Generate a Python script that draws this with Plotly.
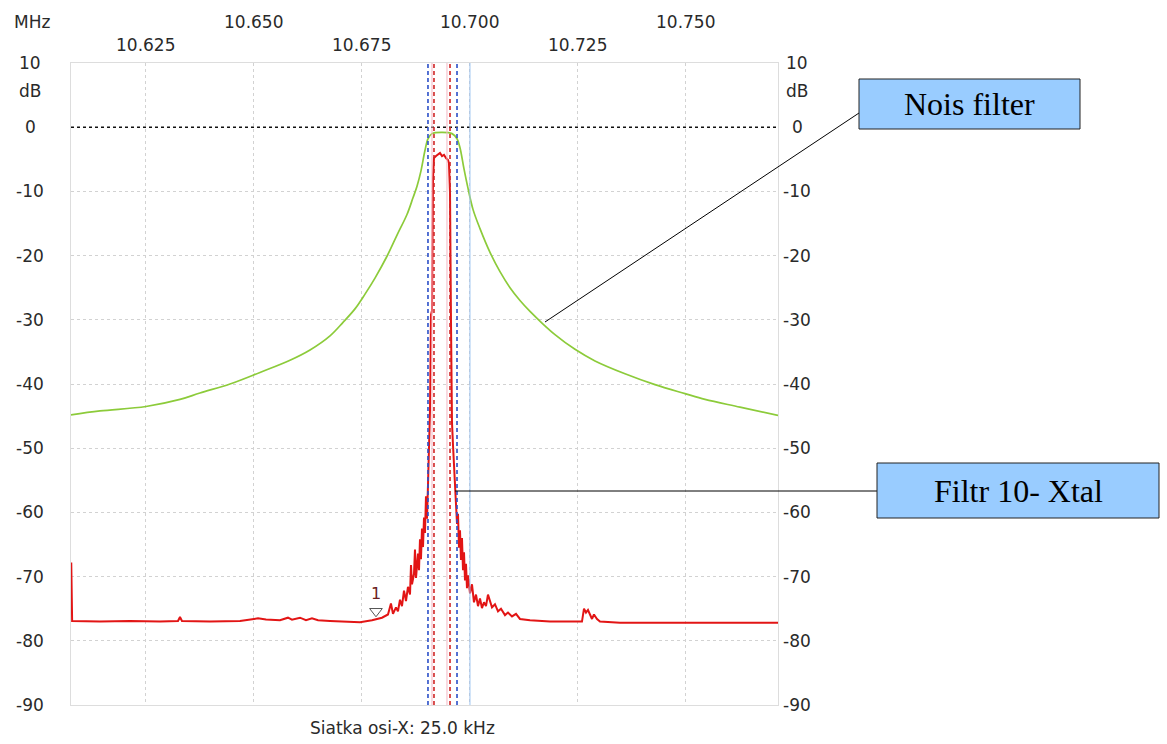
import plotly.graph_objects as go

# ---------------- data ----------------
x_range = [10.60764, 10.77131]
y_range = [-90, 10]

top_ticks_row1 = [10.650, 10.700, 10.750]
top_ticks_row2 = [10.625, 10.675, 10.725]
top_labels_row1 = ["10.650", "10.700", "10.750"]
top_labels_row2 = ["10.625", "10.675", "10.725"]
grid_x = [10.625, 10.650, 10.675, 10.700, 10.725, 10.750]

y_ticks = [10, 0, -10, -20, -30, -40, -50, -60, -70, -80, -90]
y_labels = ["10", "0", "-10", "-20", "-30", "-40", "-50", "-60", "-70", "-80", "-90"]

green_f = [10.60764, 10.61435, 10.62500, 10.63287, 10.63750, 10.64445, 10.65139,
           10.65834, 10.66297, 10.66760, 10.67061, 10.67338, 10.67570, 10.67801,
           10.68079, 10.68311, 10.68542, 10.68681, 10.68774, 10.68866, 10.68959,
           10.69028, 10.69121, 10.69352, 10.69584, 10.69700, 10.69769, 10.69862,
           10.69954, 10.70070, 10.70232, 10.70464, 10.70695, 10.70927, 10.71158,
           10.71390, 10.71667, 10.71968, 10.72431, 10.72894, 10.73589, 10.74283,
           10.74978, 10.75441, 10.76251, 10.77131]
green_db = [-44.8, -44.2, -43.5, -42.4, -41.4, -40.0, -38.2,
            -36.3, -34.7, -32.5, -30.4, -28.3, -26.0, -23.5,
            -20.1, -16.8, -13.6, -11.0, -9.2, -6.8, -3.6,
            -1.8, -1.0, -0.8, -1.0, -1.8, -3.2, -6.5,
            -9.5, -12.8, -15.8, -19.5, -22.5, -25.0, -27.0,
            -28.7, -30.5, -32.3, -34.6, -36.4, -38.4, -40.1,
            -41.5, -42.4, -43.6, -44.9]

red_f = [10.60770, 10.60790, 10.61435, 10.62130, 10.62824, 10.63241, 10.63287,
         10.63333, 10.63982, 10.64676, 10.65000, 10.65093, 10.65278, 10.65602,
         10.65787, 10.65880, 10.66065, 10.66204, 10.66343, 10.66482, 10.66760,
         10.67107, 10.67454, 10.67732, 10.67963, 10.68102, 10.68171, 10.68218,
         10.68287, 10.68333, 10.68380, 10.68426, 10.68473, 10.68519, 10.68565,
         10.68612, 10.68635, 10.68658, 10.68704, 10.68727, 10.68751, 10.68797,
         10.68820, 10.68843, 10.68866, 10.68889, 10.68913, 10.68936, 10.68959,
         10.68982, 10.69005, 10.69028, 10.69051, 10.69075, 10.69098, 10.69121,
         10.69144, 10.69167, 10.69214, 10.69260, 10.69306, 10.69353, 10.69399,
         10.69445, 10.69491, 10.69514, 10.69538, 10.69561, 10.69584, 10.69607,
         10.69630, 10.69653, 10.69677, 10.69700, 10.69723, 10.69746, 10.69769,
         10.69792, 10.69815, 10.69839, 10.69862, 10.69885, 10.69908, 10.69931,
         10.69954, 10.70001, 10.70047, 10.70093, 10.70140, 10.70186, 10.70232,
         10.70278, 10.70325, 10.70371, 10.70417, 10.70464, 10.70510, 10.70579,
         10.70649, 10.70718, 10.70811, 10.70880, 10.70973, 10.71066, 10.71158,
         10.71390, 10.71853, 10.72316, 10.72593, 10.72640, 10.72686, 10.72732,
         10.72779, 10.72825, 10.72871, 10.72941, 10.73010, 10.73473, 10.74168,
         10.74862, 10.75557, 10.76251, 10.77131]
red_db = [-67.8, -76.9, -77.0, -76.9, -77.0, -76.9, -76.3,
          -76.9, -77.0, -76.9, -76.6, -76.5, -76.7, -76.8,
          -76.4, -76.7, -76.4, -76.8, -76.5, -76.8, -76.9,
          -77.0, -77.1, -76.8, -76.4, -75.9, -74.2, -75.8,
          -74.8, -75.4, -73.6, -74.6, -72.2, -73.8, -71.6,
          -72.8, -68.2, -71.2, -69.6, -65.8, -70.2, -66.4,
          -69.0, -64.2, -67.3, -62.5, -65.4, -60.8, -63.2,
          -57.5, -61.0, -55.8, -51.5, -44.0, -29.2, -28.6,
          -8.0, -4.8, -4.5, -4.2, -4.0, -4.5, -4.3,
          -4.8, -5.1, -5.6, -10.2, -30.5, -46.0, -49.5,
          -53.0, -56.2, -58.5, -61.8, -60.2, -65.5, -62.8,
          -67.4, -64.0, -69.0, -66.2, -70.6, -68.0, -71.8,
          -69.8, -72.6, -71.2, -74.0, -72.8, -74.6, -73.4,
          -74.9, -74.0, -74.6, -72.8, -73.9, -74.8, -74.3,
          -75.4, -75.0, -76.0, -75.6, -76.2, -75.8, -76.6,
          -76.8, -77.0, -77.0, -77.0, -75.0, -75.6, -75.2,
          -75.9, -76.6, -75.9, -76.6, -77.0, -77.2, -77.2,
          -77.2, -77.2, -77.2, -77.2]

marker_f = [10.67824]
marker_db = [-75.4]
marker_label = ["1"]

blue_lines = [10.69028, 10.69700]
red_lines = [10.69167, 10.69538]
pink_lines = [10.69121, 10.69468]
lightblue_lines = [10.70000]

# ---------------- figure ----------------
W, H = 1167, 744
L, R, T, B = 71, 389, 63, 39
pw, ph = W - L - R, H - T - B

def px(x):
    return (x - L) / pw

def py(y):
    return (H - B - y) / ph

txt_font = dict(family="DejaVu Sans", size=17, color="#2A2A2A")
box_font = dict(family="Liberation Serif", size=32, color="#000000")

fig = go.Figure()

fig.add_trace(go.Scatter(x=green_f, y=green_db, mode="lines", line_shape="spline",
                         line=dict(color="#8CCB3A", width=1.7), hoverinfo="skip"))
fig.add_trace(go.Scatter(x=red_f, y=red_db, mode="lines",
                         line=dict(color="#E21515", width=2), hoverinfo="skip"))
fig.add_trace(go.Scatter(x=marker_f, y=marker_db, mode="markers+text",
                         marker=dict(symbol="triangle-down-open", size=11,
                                     color="#555555", line=dict(width=1)),
                         text=marker_label, textposition="top center",
                         textfont=dict(family="DejaVu Sans", size=16, color="#6B2020"),
                         hoverinfo="skip"))

shapes = []
shapes.append(dict(type="line", xref="paper", x0=0, x1=1, yref="y", y0=0, y1=0,
                   line=dict(color="#111111", width=1.5, dash="dot")))
for f in pink_lines:
    shapes.append(dict(type="line", xref="x", x0=f, x1=f, yref="paper", y0=0, y1=1,
                       line=dict(color="#F4B6C2", width=1)))
for f in lightblue_lines:
    shapes.append(dict(type="line", xref="x", x0=f, x1=f, yref="paper", y0=0, y1=1,
                       line=dict(color="#9CC3F0", width=1)))
for f in blue_lines:
    shapes.append(dict(type="line", xref="x", x0=f, x1=f, yref="paper", y0=0, y1=1,
                       line=dict(color="#2B4FC8", width=1.6, dash="4px,3px")))
for f in red_lines:
    shapes.append(dict(type="line", xref="x", x0=f, x1=f, yref="paper", y0=0, y1=1,
                       line=dict(color="#D02626", width=1.6, dash="4px,3px")))

shapes.append(dict(type="line", xref="paper", yref="paper",
                   x0=px(859), y0=py(113), x1=px(545), y1=py(322),
                   line=dict(color="#000000", width=1)))
shapes.append(dict(type="rect", xref="paper", yref="paper",
                   x0=px(859), y0=py(79), x1=px(1080), y1=py(129),
                   fillcolor="#99CCFF", line=dict(color="#222222", width=1)))
shapes.append(dict(type="line", xref="paper", yref="paper",
                   x0=px(877), y0=py(491), x1=px(455), y1=py(491),
                   line=dict(color="#000000", width=1)))
shapes.append(dict(type="rect", xref="paper", yref="paper",
                   x0=px(877), y0=py(463), x1=px(1159), y1=py(518),
                   fillcolor="#99CCFF", line=dict(color="#222222", width=1)))

ann = []
for f, t in zip(top_ticks_row1, top_labels_row1):
    ann.append(dict(x=f, xref="x", y=py(22), yref="paper", text=t, showarrow=False,
                    font=txt_font, xanchor="center", yanchor="middle"))
for f, t in zip(top_ticks_row2, top_labels_row2):
    ann.append(dict(x=f, xref="x", y=py(45), yref="paper", text=t, showarrow=False,
                    font=txt_font, xanchor="center", yanchor="middle"))
ann.append(dict(x=px(32), xref="paper", y=py(22), yref="paper", text="MHz",
                showarrow=False, font=txt_font, xanchor="center", yanchor="middle"))
for v, t in zip(y_ticks, y_labels):
    ann.append(dict(x=px(30), xref="paper", y=v, yref="y", text=t, showarrow=False,
                    font=txt_font, xanchor="center", yanchor="middle"))
    ann.append(dict(x=px(797), xref="paper", y=v, yref="y", text=t, showarrow=False,
                    font=txt_font, xanchor="center", yanchor="middle"))
ann.append(dict(x=px(30), xref="paper", y=py(91), yref="paper", text="dB",
                showarrow=False, font=txt_font, xanchor="center", yanchor="middle"))
ann.append(dict(x=px(797), xref="paper", y=py(91), yref="paper", text="dB",
                showarrow=False, font=txt_font, xanchor="center", yanchor="middle"))
ann.append(dict(x=px(402), xref="paper", y=py(728), yref="paper",
                text="Siatka osi-X: 25.0 kHz", showarrow=False, font=txt_font,
                xanchor="center", yanchor="middle"))
ann.append(dict(x=px(969.5), xref="paper", y=py(104), yref="paper", text="Nois filter",
                showarrow=False, xanchor="center", yanchor="middle", font=box_font))
ann.append(dict(x=px(1018), xref="paper", y=py(491), yref="paper", text="Filtr 10- Xtal",
                showarrow=False, xanchor="center", yanchor="middle", font=box_font))

fig.update_layout(
    width=W, height=H,
    margin=dict(l=L, r=R, t=T, b=B, pad=0),
    paper_bgcolor="white", plot_bgcolor="white",
    showlegend=False,
    shapes=shapes, annotations=ann,
    xaxis=dict(range=x_range, tickvals=grid_x, showticklabels=False, ticks="",
               showgrid=True, gridcolor="#D2D2D2", griddash="dot", gridwidth=1,
               zeroline=False, showline=True, mirror=True, linecolor="#DDDDDD",
               linewidth=1, fixedrange=True),
    yaxis=dict(range=y_range, tickvals=y_ticks, showticklabels=False, ticks="",
               showgrid=True, gridcolor="#D2D2D2", griddash="dot", gridwidth=1,
               zeroline=False, showline=True, mirror=True, linecolor="#DDDDDD",
               linewidth=1, fixedrange=True),
)

fig.write_html("out.html", config={"displayModeBar": False},
               post_script="document.body.style.margin='0';document.body.style.overflow='hidden';")
